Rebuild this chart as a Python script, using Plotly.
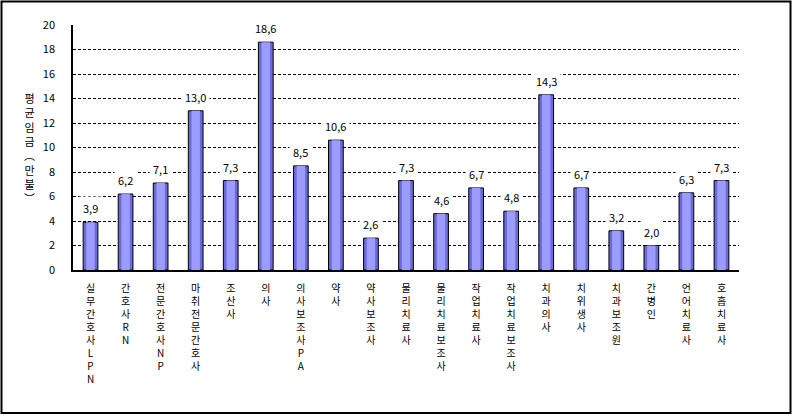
import plotly.graph_objects as go

categories = ["실무간호사LPN", "간호사RN", "전문간호사NP", "마취전문간호사", "조산사", "의사",
              "의사보조사PA", "약사", "약사보조사", "물리치료사", "물리치료보조사", "작업치료사",
              "작업치료보조사", "치과의사", "치위생사", "치과보조원", "간병인", "언어치료사", "호흡치료사"]
values = [3.9, 6.2, 7.1, 13.0, 7.3, 18.6, 8.5, 10.6, 2.6, 7.3, 4.6, 6.7, 4.8, 14.3, 6.7, 3.2, 2.0, 6.3, 7.3]
y_ticks = [0, 2, 4, 6, 8, 10, 12, 14, 16, 18, 20]
y_title = "평균임금(만불)"

W, H = 793, 416
L, R, T, B = 73, 54, 25, 146
pw, ph = W - L - R, H - T - B

tick_text = ["<br>".join(list(c)) for c in categories]
labels = [f"{v:.1f}".replace(".", ",") for v in values]

FONT = "Noto Sans CJK KR, DejaVu Sans, sans-serif"

fig = go.Figure()
fig.add_trace(go.Bar(x=categories, y=values, width=0.42,
                     marker=dict(color="#6A6AD8", line=dict(color="black", width=1)),
                     hoverinfo="skip"))
fig.add_trace(go.Bar(x=categories, y=values, width=0.24,
                     marker=dict(color="#9C9CFF", line=dict(width=0)),
                     hoverinfo="skip"))

for c, v, t in zip(categories, values, labels):
    fig.add_annotation(x=c, y=v, text=t, showarrow=False, yanchor="bottom", yshift=2,
                       bgcolor="white", borderpad=3,
                       font=dict(family=FONT, size=11, color="black"))

vert = "평<br>균<br>임<br>금<br>︵<br>만<br>불<br>︶"
fig.add_annotation(xref="paper", yref="paper", x=(29 - L) / pw, y=(270 - 148) / ph,
                   text=vert, showarrow=False, xanchor="center", yanchor="middle",
                   font=dict(family=FONT, size=11, color="black"))

# outer frame
fig.add_shape(type="rect", xref="paper", yref="paper",
              x0=(1.5 - L) / pw, x1=(790.5 - L) / pw,
              y0=(270 - 413) / ph, y1=(270 - 1.5) / ph,
              line=dict(color="black", width=2), layer="below")

fig.update_layout(
    width=W, height=H, margin=dict(l=L, r=R, t=T, b=B),
    paper_bgcolor="white", plot_bgcolor="white",
    barmode="overlay", showlegend=False,
    font=dict(family=FONT, size=11, color="black"),
    xaxis=dict(type="category", tickmode="array", tickvals=categories, ticktext=tick_text,
               showline=True, linecolor="black", linewidth=1.5, ticks="",
               showgrid=False, tickangle=0, ticklabelstandoff=8,
               tickfont=dict(family=FONT, size=10, color="black"),
               range=[-0.5, len(categories) - 0.5]),
    yaxis=dict(range=[0, 20], tickmode="array", tickvals=y_ticks,
               showline=True, linecolor="black", linewidth=1.5, ticks="",
               showgrid=True, gridcolor="black", gridwidth=1, griddash="3px,2px",
               zeroline=False, ticklabelstandoff=14,
               tickfont=dict(family=FONT, size=11, color="black")),
)

fig.write_html("out.html")
